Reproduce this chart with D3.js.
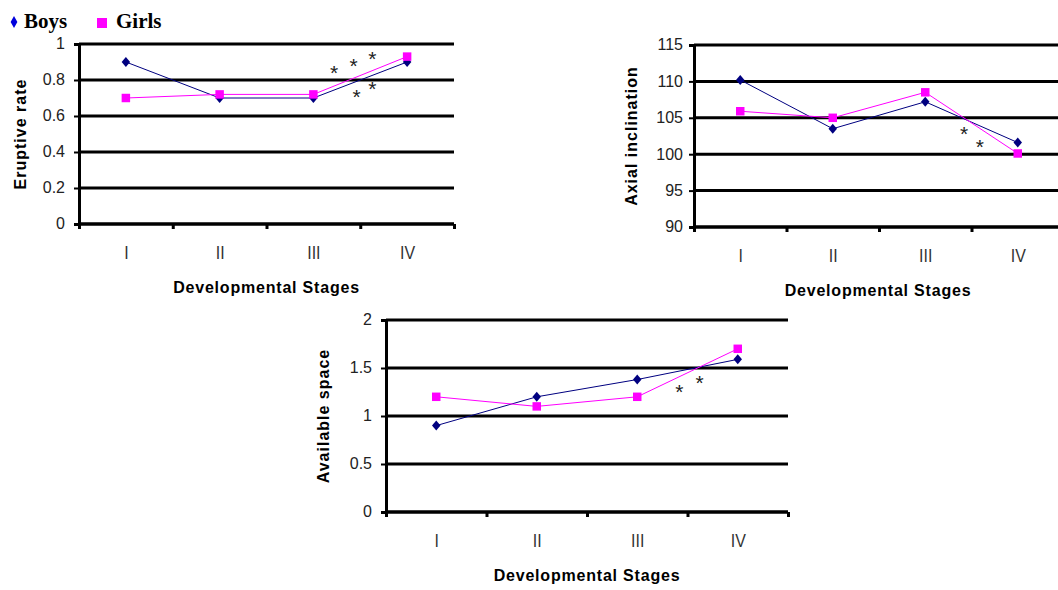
<!DOCTYPE html>
<meta charset="utf-8">
<style>
  body { margin: 0; background: #fff; }
  text { font-family: "Liberation Sans", Arial, sans-serif; }
</style>
<body>
<script src="https://d3js.org/d3.v7.min.js"></script>
<script>
var stages = ["I", "II", "III", "IV"];

var eruptiveBoys  = [0.9, 0.7, 0.7, 0.9],
    eruptiveGirls = [0.7, 0.72, 0.72, 0.93],
    eruptiveTicks = [0, 0.2, 0.4, 0.6, 0.8, 1];

var axialBoys  = [110.2, 103.5, 107.2, 101.6],
    axialGirls = [105.9, 105.0, 108.5, 100.1],
    axialTicks = [90, 95, 100, 105, 110, 115];

var spaceBoys  = [0.9, 1.2, 1.38, 1.59],
    spaceGirls = [1.2, 1.1, 1.2, 1.7],
    spaceTicks = [0, 0.5, 1, 1.5, 2];

// significance marks: [stage position, value]
var eruptiveStars = [[2.22, 0.86], [2.43, 0.9], [2.63, 0.94], [2.46, 0.73], [2.63, 0.77]],
    axialStars    = [[2.42, 103.3], [2.59, 101.5]],
    spaceStars    = [[2.42, 1.29], [2.62, 1.39]];

var svg = d3.select("body").append("svg")
    .attr("width", 1058)
    .attr("height", 590);

// legend
var legend = svg.append("g");
legend.append("path")
    .attr("d", d3.symbol().type(d3.symbolDiamond).size(40))
    .attr("transform", "translate(14,22) scale(1,1)")
    .attr("fill", "#0000dd");
legend.append("text").attr("x", 24).attr("y", 28)
    .style("font-family", "'Liberation Serif', 'Times New Roman', serif")
    .style("font-weight", "bold").style("font-size", "21px")
    .text("Boys");
legend.append("rect").attr("x", 97).attr("y", 18).attr("width", 10).attr("height", 10)
    .attr("fill", "#ff00ff");
legend.append("text").attr("x", 116).attr("y", 28)
    .style("font-family", "'Liberation Serif', 'Times New Roman', serif")
    .style("font-weight", "bold").style("font-size", "21px")
    .text("Girls");

function panel(cfg) {
  var g = svg.append("g");
  var x = d3.scaleLinear().domain([-0.5, 3.5]).range([cfg.left, cfg.right]);
  var y = d3.scaleLinear().domain(cfg.domain).range([cfg.bottom, cfg.top]);

  // gridlines
  g.selectAll(".grid")
    .data(cfg.ticks)
    .enter().append("line")
      .attr("x1", cfg.left).attr("x2", cfg.right)
      .attr("y1", function(d) { return y(d); })
      .attr("y2", function(d) { return y(d); })
      .attr("stroke", "#000").attr("stroke-width", 3);

  // y axis
  var yAxis = g.append("g")
      .attr("transform", "translate(" + cfg.left + ",0)")
      .call(d3.axisLeft(y).tickValues(cfg.ticks).tickSize(5).tickPadding(cfg.pad)
        .tickFormat(d3.format("~g")));
  yAxis.select(".domain").attr("stroke-width", 3);
  yAxis.selectAll(".tick line").attr("stroke-width", 2);
  yAxis.selectAll("text").style("font-size", "16px").attr("fill", "#222")
      .attr("dy", "0.3em");

  // x axis with marks between stages
  var xAxis = g.append("g")
      .attr("transform", "translate(0," + cfg.bottom + ")")
      .call(d3.axisBottom(x).tickValues([-0.5, 0.5, 1.5, 2.5, 3.5]).tickSize(5)
        .tickFormat(""));
  xAxis.select(".domain").attr("stroke-width", 3).attr("d",
      "M" + cfg.left + ",0H" + cfg.right);
  xAxis.selectAll(".tick line").attr("stroke-width", 3);

  var xLabels = g.append("g")
      .attr("transform", "translate(0," + cfg.bottom + ")")
      .call(d3.axisBottom(x).tickValues([0, 1, 2, 3]).tickSize(0).tickPadding(19)
        .tickFormat(function(d) { return stages[d]; }));
  xLabels.select(".domain").remove();
  xLabels.selectAll("text").style("font-size", "16px").attr("fill", "#333")
      .attr("transform", "scale(1,1.15)");

  // titles
  g.append("text")
      .attr("x", (cfg.left + Math.min(cfg.right, 1058)) / 2 + cfg.titleShift)
      .attr("y", cfg.bottom + 69)
      .attr("text-anchor", "middle")
      .style("font-weight", "bold").style("font-size", "16px").style("letter-spacing", "0.8px")
      .text("Developmental Stages");
  g.append("text")
      .attr("transform", "translate(" + cfg.ytX + "," + ((cfg.top + cfg.bottom) / 2) + ") rotate(-90)")
      .attr("text-anchor", "middle")
      .style("font-weight", "bold").style("font-size", "16px").style("letter-spacing", "1px")
      .text(cfg.yTitle);

  var line = d3.line()
      .x(function(d, i) { return x(i); })
      .y(function(d) { return y(d); });

  g.append("path").datum(cfg.boys)
      .attr("d", line).attr("fill", "none").attr("stroke", "#000080").attr("stroke-width", 1);
  g.append("path").datum(cfg.girls)
      .attr("d", line).attr("fill", "none").attr("stroke", "#ff00ff").attr("stroke-width", 1);

  g.selectAll(".boy")
    .data(cfg.boys)
    .enter().append("path")
      .attr("d", d3.symbol().type(d3.symbolDiamond).size(40))
      .attr("transform", function(d, i) { return "translate(" + x(i) + "," + y(d) + ") scale(1.25,0.85)"; })
      .attr("fill", "#000080");
  g.selectAll(".girl")
    .data(cfg.girls)
    .enter().append("path")
      .attr("d", d3.symbol().type(d3.symbolSquare).size(72))
      .attr("transform", function(d, i) { return "translate(" + x(i) + "," + y(d) + ")"; })
      .attr("fill", "#ff00ff");

  g.selectAll(".star")
    .data(cfg.stars)
    .enter().append("text")
      .attr("x", function(d) { return x(d[0]); })
      .attr("y", function(d) { return y(d[1]) + 11; })
      .attr("text-anchor", "middle")
      .style("font-size", "21px").attr("fill", "#222")
      .text("*");
}

panel({ left: 79, right: 454, top: 44, bottom: 224, domain: [0, 1], ticks: eruptiveTicks,
        boys: eruptiveBoys, girls: eruptiveGirls, stars: eruptiveStars, pad: 9,
        yTitle: "Eruptive rate", ytX: 26, titleShift: 0 });
panel({ left: 694, right: 1064, top: 45, bottom: 227, domain: [90, 115], ticks: axialTicks,
        boys: axialBoys, girls: axialGirls, stars: axialStars, pad: 6,
        yTitle: "Axial inclination", ytX: 637, titleShift: 2 });
panel({ left: 386, right: 788, top: 320, bottom: 512, domain: [0, 2], ticks: spaceTicks,
        boys: spaceBoys, girls: spaceGirls, stars: spaceStars, pad: 9,
        yTitle: "Available space", ytX: 329, titleShift: 0 });
</script>
